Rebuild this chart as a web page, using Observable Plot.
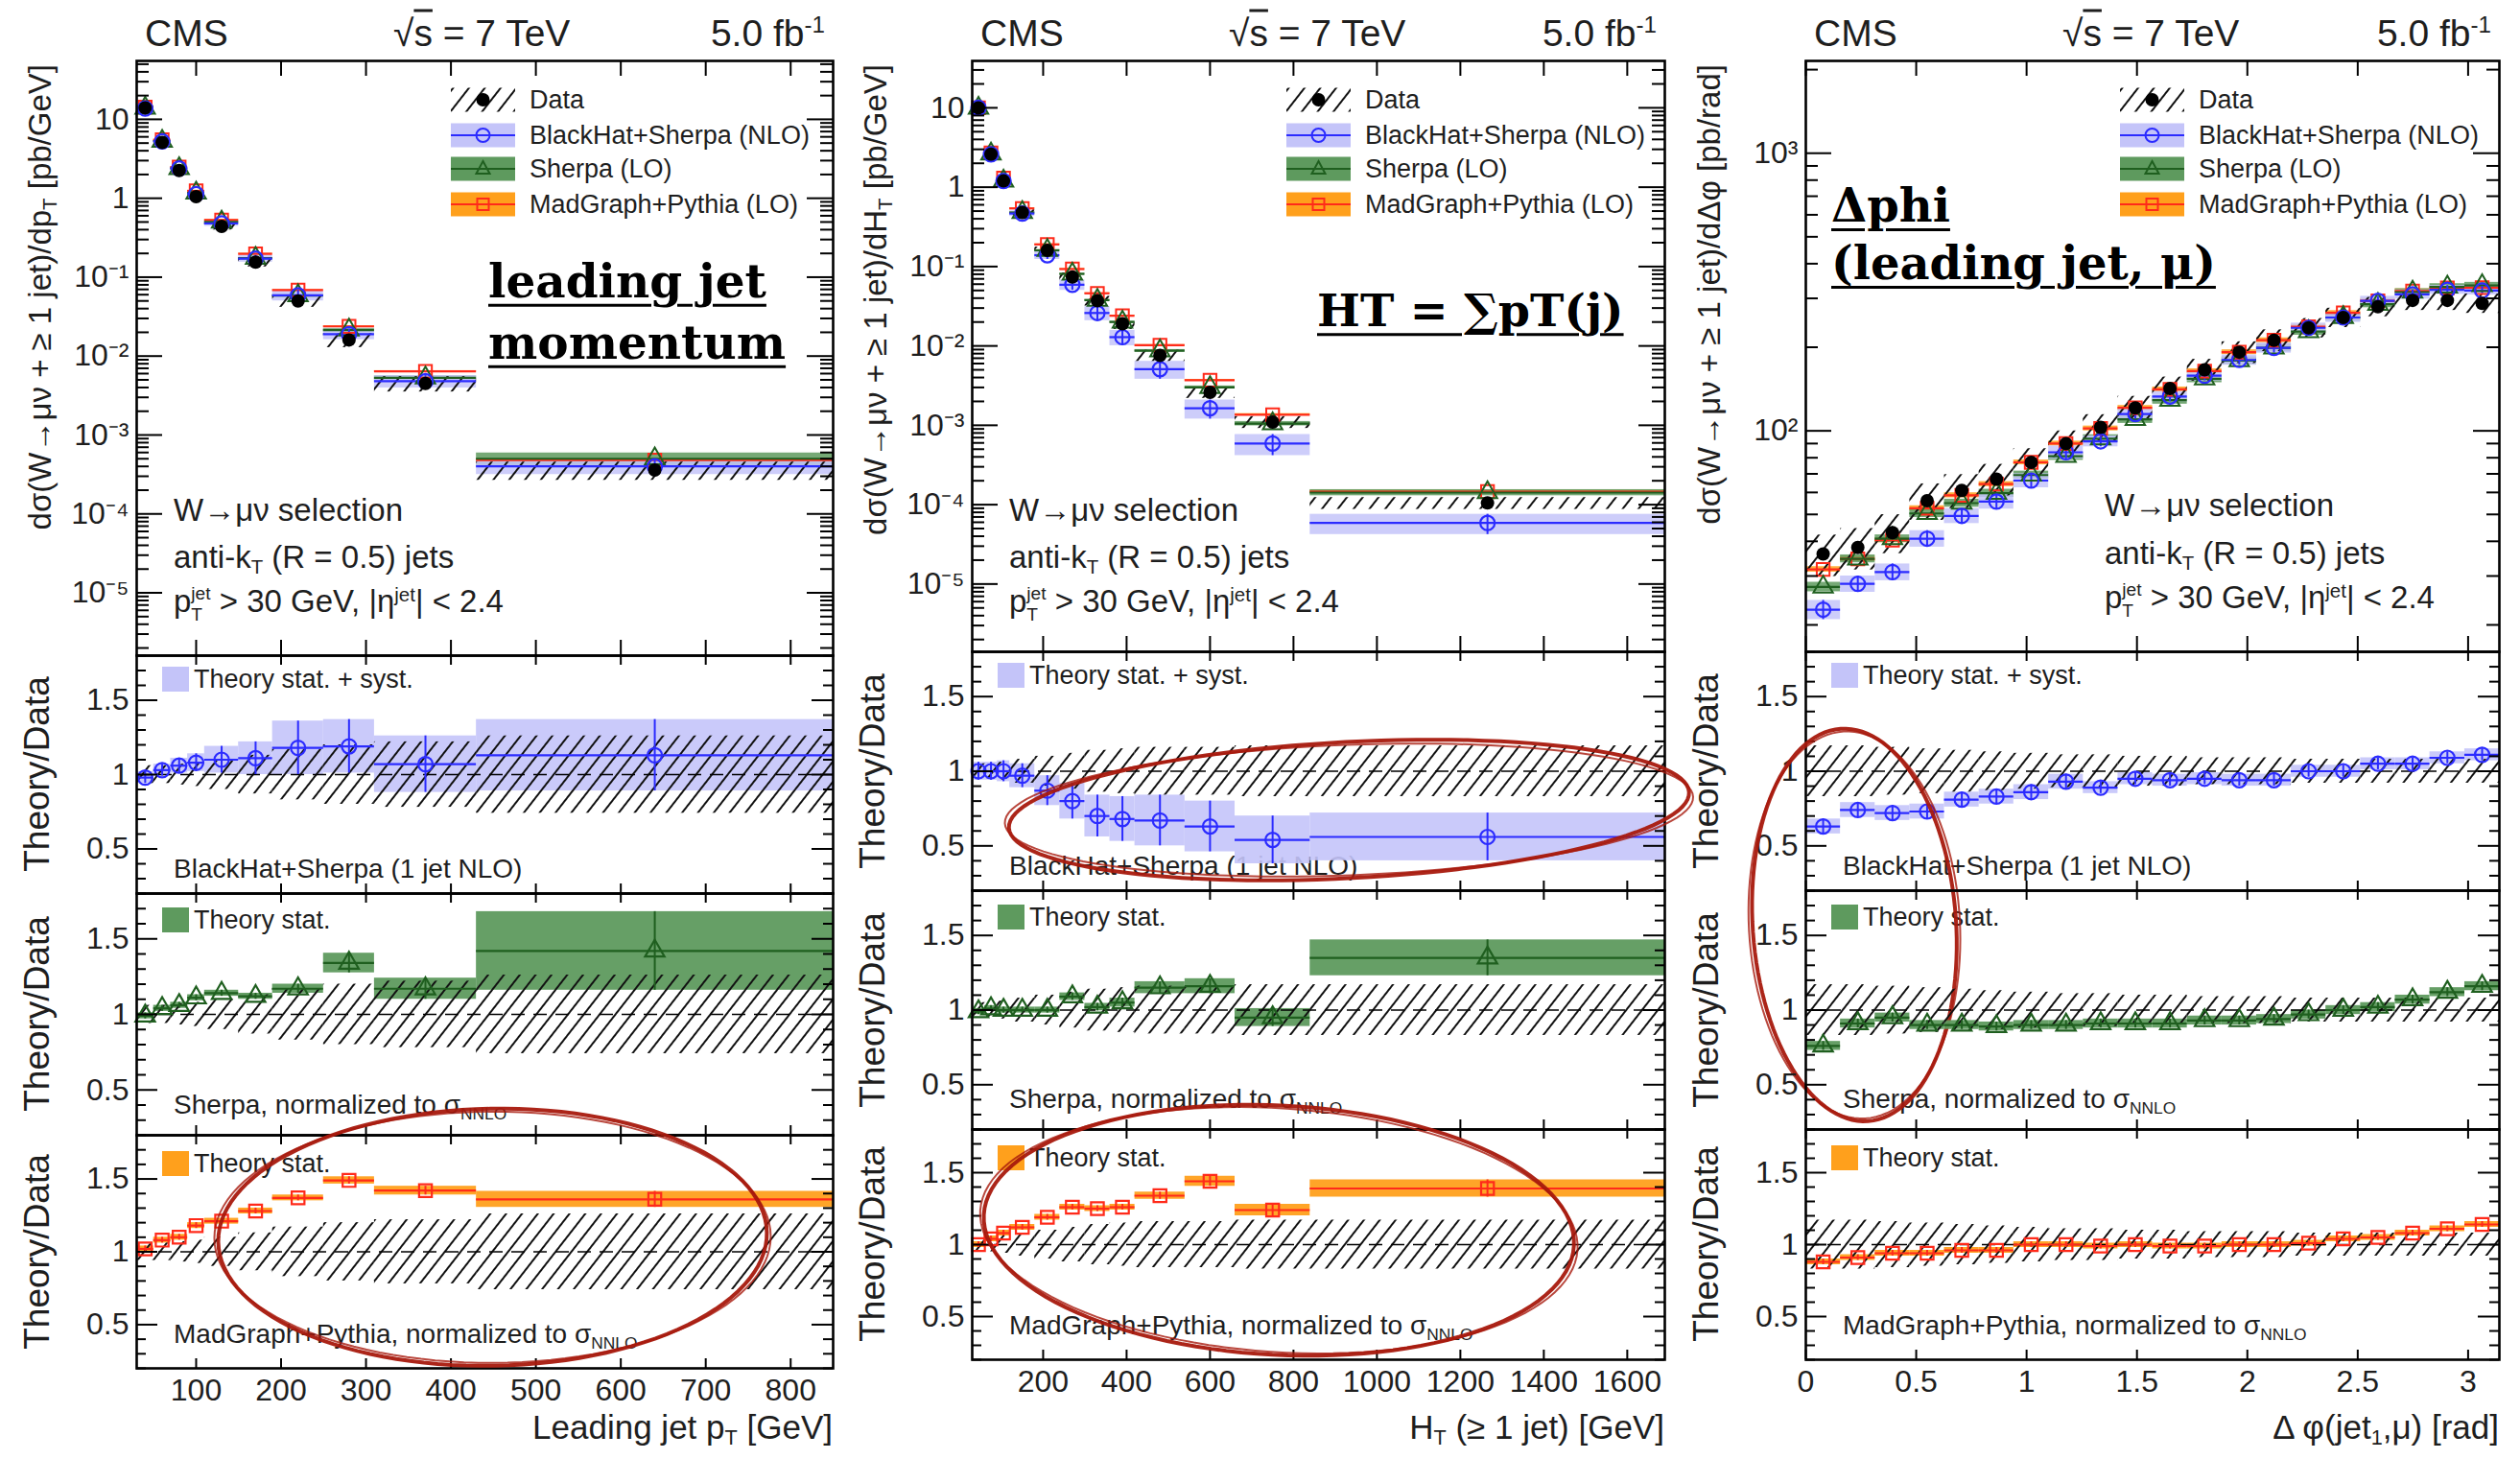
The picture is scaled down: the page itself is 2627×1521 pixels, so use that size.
<!DOCTYPE html>
<html>
<head>
<meta charset="utf-8">
<script src="https://cdn.jsdelivr.net/npm/d3@7"></script>
<script src="https://cdn.jsdelivr.net/npm/@observablehq/plot@0.6"></script>
<style>
  html, body { margin:0; padding:0; background:#fff; }
  #page { position:relative; width:2627px; height:1521px; overflow:hidden; background:#fff;
          font-family:"Liberation Sans", Arial, Helvetica, sans-serif; color:#1e1e1e; }
  .t { position:absolute; white-space:nowrap; line-height:1; }
  .t sub, .t sup { font-size:0.62em; line-height:0; }
  .t sub { vertical-align:-0.32em; }
  .t sup { vertical-align:0.55em; }
  .stk { display:inline-flex; flex-direction:column; font-size:0.58em; line-height:1.15; vertical-align:0.7em; }
  .big { font-family:"DejaVu Serif", serif; font-weight:bold; color:#000; text-decoration:underline;
         text-decoration-thickness:3px; text-underline-offset:7px; }
  .panel { position:absolute; }
  .panel svg { overflow:visible; display:block; }
  .sq { position:absolute; }
</style>
</head>
<body>
<svg width="0" height="0" style="position:absolute;left:0;top:0">
  <defs>
    <pattern id="hatch" patternUnits="userSpaceOnUse" width="13" height="13" patternTransform="rotate(38)">
      <line x1="2" y1="0" x2="2" y2="13" stroke="#111" stroke-width="2"/>
    </pattern>
  </defs>
</svg>
<div id="page"></div>
<script>
// ======================= DATA =======================
// ---- Column 1: leading jet pT ----
const ptEdges = [30, 50, 70, 90, 110, 150, 190, 250, 310, 430, 850];
const ptData = [14, 5.1, 2.25, 1.05, 0.44, 0.155, 0.05, 0.016, 0.0045, 0.00036];
const ptDataUnc = [0.06, 0.06, 0.07, 0.08, 0.10, 0.13, 0.17, 0.20, 0.22, 0.26];
const ptBlackHat = [13.7, 5.25, 2.39, 1.13, 0.48, 0.172, 0.059, 0.019, 0.0048, 0.0004];
const ptSherpa = [13.9, 5.3, 2.39, 1.17, 0.5, 0.174, 0.0585, 0.0214, 0.0053, 0.0005];
const ptMadGraph = [14.3, 5.5, 2.48, 1.24, 0.53, 0.198, 0.0685, 0.0238, 0.0064, 0.00048];
const ptRatioBlackHat = [0.98, 1.03, 1.06, 1.08, 1.10, 1.11, 1.18, 1.19, 1.07, 1.13];
const ptErrBlackHat = [0.04, 0.04, 0.05, 0.06, 0.09, 0.11, 0.18, 0.18, 0.19, 0.24];
const ptRatioSherpa = [0.99, 1.04, 1.06, 1.11, 1.14, 1.12, 1.17, 1.34, 1.17, 1.42];
const ptErrSherpa = [0.02, 0.02, 0.02, 0.02, 0.02, 0.02, 0.03, 0.065, 0.07, 0.26];
const ptRatioMadGraph = [1.02, 1.08, 1.10, 1.18, 1.21, 1.28, 1.37, 1.49, 1.42, 1.36];
const ptErrMadGraph = [0.02, 0.02, 0.02, 0.02, 0.02, 0.02, 0.02, 0.025, 0.03, 0.055];

// ---- Column 2: HT ----
const htEdges = [30, 60, 90, 120, 180, 240, 300, 360, 420, 540, 660, 840, 1690];
const htData = [10, 2.6, 1.2, 0.48, 0.16, 0.074, 0.037, 0.019, 0.0076, 0.0026, 0.0011, 0.000105];
const htDataUnc = [0.05, 0.05, 0.06, 0.08, 0.10, 0.12, 0.14, 0.15, 0.16, 0.16, 0.17, 0.17];
const htBlackHat = [10, 2.6, 1.2, 0.466, 0.139, 0.059, 0.026, 0.0129, 0.0051, 0.00164, 0.00059, 0.0000588];
const htSherpa = [9.9, 2.63, 1.2, 0.48, 0.16, 0.0807, 0.0377, 0.02, 0.0087, 0.003, 0.00105, 0.000142];
const htMadGraph = [10, 2.7, 1.3, 0.54, 0.19, 0.093, 0.046, 0.024, 0.0102, 0.0037, 0.00136, 0.000146];
const htRatioBlackHat = [1.0, 1.0, 1.0, 0.97, 0.87, 0.80, 0.70, 0.68, 0.67, 0.63, 0.54, 0.56];
const htErrBlackHat = [0.06, 0.06, 0.07, 0.08, 0.10, 0.12, 0.14, 0.15, 0.17, 0.17, 0.16, 0.16];
const htRatioSherpa = [0.99, 1.01, 1.0, 1.0, 1.0, 1.09, 1.02, 1.05, 1.15, 1.16, 0.95, 1.35];
const htErrSherpa = [0.02, 0.02, 0.02, 0.02, 0.02, 0.025, 0.025, 0.03, 0.04, 0.05, 0.06, 0.12];
const htRatioMadGraph = [1.0, 1.04, 1.08, 1.12, 1.19, 1.26, 1.25, 1.26, 1.34, 1.44, 1.24, 1.39];
const htErrMadGraph = [0.02, 0.02, 0.02, 0.02, 0.02, 0.02, 0.02, 0.02, 0.025, 0.035, 0.04, 0.06];

// ---- Column 3: delta phi(jet1, mu) ----
const dphiEdges = [0, 0.157, 0.314, 0.471, 0.628, 0.785, 0.942, 1.100, 1.257, 1.414, 1.571, 1.728, 1.885, 2.042, 2.199, 2.356, 2.513, 2.670, 2.827, 2.985, 3.142];
const dphiData = [36, 38, 43, 56, 61, 67, 77, 90, 103, 121, 142, 166, 192, 212, 235, 256, 280, 295, 295, 288];
const dphiDataUnc = [0.17, 0.17, 0.16, 0.15, 0.14, 0.13, 0.12, 0.11, 0.11, 0.10, 0.10, 0.09, 0.09, 0.09, 0.08, 0.08, 0.08, 0.08, 0.08, 0.08];
const dphiBlackHat = [22.7, 28.1, 31, 40.9, 49.4, 55.6, 66.2, 83.7, 91.7, 115, 133, 158, 180, 199, 235, 256, 294, 310, 322, 320];
const dphiSherpa = [27.4, 34.6, 40.9, 50.4, 54.9, 59.6, 69.3, 81, 93.7, 110, 129, 154, 179, 199, 228, 256, 286, 316, 330, 334];
const dphiMadGraph = [31.7, 34.6, 40.4, 52.6, 58.6, 64.3, 77, 90, 102, 121, 141, 164, 192, 212, 237, 266, 294, 319, 327, 328];
const dphiRatioBlackHat = [0.63, 0.74, 0.72, 0.73, 0.81, 0.83, 0.86, 0.93, 0.89, 0.95, 0.94, 0.95, 0.94, 0.94, 1.0, 1.0, 1.05, 1.05, 1.09, 1.11];
const dphiErrBlackHat = [0.05, 0.05, 0.05, 0.05, 0.05, 0.05, 0.05, 0.05, 0.04, 0.04, 0.04, 0.04, 0.04, 0.04, 0.04, 0.04, 0.04, 0.04, 0.04, 0.04];
const dphiRatioSherpa = [0.76, 0.91, 0.95, 0.90, 0.90, 0.89, 0.90, 0.90, 0.91, 0.91, 0.91, 0.93, 0.93, 0.94, 0.97, 1.0, 1.02, 1.07, 1.12, 1.16];
const dphiErrSherpa = [0.03, 0.03, 0.03, 0.03, 0.03, 0.03, 0.03, 0.03, 0.03, 0.03, 0.03, 0.03, 0.03, 0.03, 0.03, 0.03, 0.03, 0.03, 0.03, 0.03];
const dphiRatioMadGraph = [0.88, 0.91, 0.94, 0.94, 0.96, 0.96, 1.0, 1.0, 0.99, 1.0, 0.99, 0.99, 1.0, 1.0, 1.01, 1.04, 1.05, 1.08, 1.11, 1.14];
const dphiErrMadGraph = [0.02, 0.02, 0.02, 0.02, 0.02, 0.02, 0.02, 0.02, 0.02, 0.02, 0.02, 0.02, 0.02, 0.02, 0.02, 0.02, 0.02, 0.02, 0.02, 0.02];

// ---- Axes: domains, ticks, tick labels ----
const ptDomain = [30, 850];
const htDomain = [30, 1690];
const dphiDomain = [0, 3.1416];
const ptYDomain = [1.6e-6, 55];
const htYDomain = [1.4e-6, 39];
const dphiYDomain = [16, 2150];
const ratioDomain = [0.2, 1.8];
const ptTicks = [100, 200, 300, 400, 500, 600, 700, 800];
const ptTickLabels = ["100", "200", "300", "400", "500", "600", "700", "800"];
const htTicks = [200, 400, 600, 800, 1000, 1200, 1400, 1600];
const htTickLabels = ["200", "400", "600", "800", "1000", "1200", "1400", "1600"];
const dphiTicks = [0, 0.5, 1, 1.5, 2, 2.5, 3];
const dphiTickLabels = ["0", "0.5", "1", "1.5", "2", "2.5", "3"];
const logTicks = [1e-5, 1e-4, 1e-3, 1e-2, 1e-1, 1, 10];
const logTickLabels = ["10⁻⁵", "10⁻⁴", "10⁻³", "10⁻²", "10⁻¹", "1", "10"];
const dphiLogTicks = [100, 1000];
const dphiLogTickLabels = ["10²", "10³"];
const ratioTicks = [0.5, 1, 1.5];
const ratioTickLabels = ["0.5", "1", "1.5"];

// ---- Hand-drawn highlight ellipses (centre in data units of the panel; size in px) ----
const highlights = [
  {col: 0, panel: 3, x: 449, y: 1.10, rx: 286, ry: 134, rot: -1},
  {col: 1, panel: 1, x: 933, y: 0.74, rx: 355, ry: 71, rot: -3},
  {col: 1, panel: 3, x: 765, y: 1.10, rx: 308, ry: 130, rot: 3},
  {col: 2, panel: 1, x: 0.22, y: -0.03, rx: 106, ry: 205, rot: -4}
];

// ======================= LAYOUT / STYLE =======================
const layout = [
  {left: 142, right: 868, top: 63, bounds: [683, 931, 1183, 1426]},
  {left: 1013, right: 1735, top: 63, bounds: [679, 928, 1177, 1417]},
  {left: 1882, right: 2605, top: 63, bounds: [679, 928, 1177, 1417]}
];
const ML = 130, MR = 12, MB = 56;
const FONT = '"Liberation Sans", Arial, Helvetica, sans-serif';
const C = {
  bhBand: "#c4c4f9", bhLine: "#2b2bff",
  shBand: "#5e9a5e", shLine: "#1f5f1f",
  mgBand: "#ffa01c", mgLine: "#ff2a1a",
  ell: "#a8190d"
};

const specs = [
  {edges: ptEdges, data: ptData, unc: ptDataUnc, bh: ptBlackHat, sh: ptSherpa, mg: ptMadGraph,
   rbh: ptRatioBlackHat, ebh: ptErrBlackHat, rsh: ptRatioSherpa, esh: ptErrSherpa, rmg: ptRatioMadGraph, emg: ptErrMadGraph,
   xDomain: ptDomain, xTicks: ptTicks, xLabels: ptTickLabels, yDomain: ptYDomain, yTicks: logTicks, yLabels: logTickLabels},
  {edges: htEdges, data: htData, unc: htDataUnc, bh: htBlackHat, sh: htSherpa, mg: htMadGraph,
   rbh: htRatioBlackHat, ebh: htErrBlackHat, rsh: htRatioSherpa, esh: htErrSherpa, rmg: htRatioMadGraph, emg: htErrMadGraph,
   xDomain: htDomain, xTicks: htTicks, xLabels: htTickLabels, yDomain: htYDomain, yTicks: logTicks, yLabels: logTickLabels},
  {edges: dphiEdges, data: dphiData, unc: dphiDataUnc, bh: dphiBlackHat, sh: dphiSherpa, mg: dphiMadGraph,
   rbh: dphiRatioBlackHat, ebh: dphiErrBlackHat, rsh: dphiRatioSherpa, esh: dphiErrSherpa, rmg: dphiRatioMadGraph, emg: dphiErrMadGraph,
   xDomain: dphiDomain, xTicks: dphiTicks, xLabels: dphiTickLabels, yDomain: dphiYDomain, yTicks: dphiLogTicks, yLabels: dphiLogTickLabels}
];

const page = document.getElementById("page");

function rowsOf(s) {
  return s.edges.slice(0, -1).map((lo, i) => {
    const hi = s.edges[i + 1];
    return {lo, hi, mid: (lo + hi) / 2, data: s.data[i], unc: s.unc[i],
      bh: s.bh[i], sh: s.sh[i], mg: s.mg[i],
      rbh: s.rbh[i], ebh: s.ebh[i], rsh: s.rsh[i], esh: s.esh[i], rmg: s.rmg[i], emg: s.emg[i]};
  });
}

function frameTicks(fw, fh, xMajor, yMajor, yMinor, lens) {
  const st = {stroke: "#000", strokeWidth: 2};
  return [
    Plot.tickY(yMajor, {y: d => d, insetRight: fw - lens.yMaj, ...st}),
    Plot.tickY(yMajor, {y: d => d, insetLeft: fw - lens.yMaj, ...st}),
    Plot.tickY(yMinor, {y: d => d, insetRight: fw - lens.yMin, ...st}),
    Plot.tickY(yMinor, {y: d => d, insetLeft: fw - lens.yMin, ...st}),
    Plot.tickX(xMajor, {x: d => d, insetBottom: fh - lens.x, ...st}),
    Plot.tickX(xMajor, {x: d => d, insetTop: fh - lens.x, ...st})
  ];
}

function ellipseSymbol(rx, ry, rot) {
  const a = rot * Math.PI / 180, ca = Math.cos(a), sa = Math.sin(a);
  return {draw(context) {
    const n = 120;
    for (let i = 0; i <= n; ++i) {
      const t = 2 * Math.PI * i / n, x = rx * Math.cos(t), y = ry * Math.sin(t);
      const X = x * ca - y * sa, Y = x * sa + y * ca;
      if (i === 0) context.moveTo(X, Y); else context.lineTo(X, Y);
    }
    context.closePath();
  }};
}

function highlightMarks(ci, pi) {
  const out = [];
  for (const h of highlights.filter(h => h.col === ci && h.panel === pi)) {
    out.push(Plot.dot([h], {x: "x", y: "y", r: 10, symbol: ellipseSymbol(h.rx, h.ry, h.rot), fill: "none", stroke: C.ell, strokeWidth: 4, strokeOpacity: 0.95}));
    out.push(Plot.dot([h], {x: "x", y: "y", r: 10, symbol: ellipseSymbol(h.rx + 4, h.ry - 3, h.rot + 0.8), fill: "none", stroke: C.ell, strokeWidth: 2, strokeOpacity: 0.8}));
  }
  return out;
}

function place(svg, x, y, w) {
  const d = document.createElement("div");
  d.className = "panel";
  d.style.left = x + "px";
  d.style.top = y + "px";
  d.style.width = w + "px";
  d.appendChild(svg);
  page.appendChild(d);
}

const svgStyle = {background: "transparent", overflow: "visible", fontSize: "32px", fontFamily: FONT, color: "#1e1e1e"};

function mainPanel(ci) {
  const s = specs[ci], L = layout[ci];
  const fw = L.right - L.left, fh = L.bounds[0] - L.top;
  const rows = rowsOf(s);
  const yMinor = d3.scaleLog().domain(s.yDomain).ticks()
    .filter(v => v >= s.yDomain[0] && v <= s.yDomain[1] && !s.yTicks.some(t => Math.abs(t - v) / t < 1e-9));
  const w = fw + ML + MR;
  const svg = Plot.plot({
    width: w, height: fh,
    marginLeft: ML, marginRight: MR, marginTop: 0, marginBottom: 0,
    style: svgStyle,
    x: {domain: s.xDomain, axis: null},
    y: {type: "log", domain: s.yDomain, ticks: s.yTicks, tickFormat: d => s.yLabels[s.yTicks.indexOf(d)],
        tickSize: 0, tickPadding: 8, label: null},
    marks: [
      Plot.rect(rows, {x1: "lo", x2: "hi", y1: d => d.mg * (1 - d.emg / d.rmg), y2: d => d.mg * (1 + d.emg / d.rmg), fill: C.mgBand, fillOpacity: 0.85}),
      Plot.rect(rows, {x1: "lo", x2: "hi", y1: d => d.sh * (1 - d.esh / d.rsh), y2: d => d.sh * (1 + d.esh / d.rsh), fill: C.shBand, fillOpacity: 0.85}),
      Plot.rect(rows, {x1: "lo", x2: "hi", y1: d => d.bh * (1 - d.ebh / d.rbh), y2: d => d.bh * (1 + d.ebh / d.rbh), fill: C.bhBand, fillOpacity: 0.85}),
      Plot.rect(rows, {x1: "lo", x2: "hi", y1: d => d.data * (1 - d.unc), y2: d => d.data * (1 + d.unc), fill: "url(#hatch)"}),
      Plot.ruleY(rows, {x1: "lo", x2: "hi", y: "mg", stroke: C.mgLine, strokeWidth: 2.2}),
      Plot.ruleY(rows, {x1: "lo", x2: "hi", y: "sh", stroke: C.shLine, strokeWidth: 2.2}),
      Plot.ruleY(rows, {x1: "lo", x2: "hi", y: "bh", stroke: C.bhLine, strokeWidth: 2.2}),
      Plot.ruleX(rows, {x: "mid", y1: d => d.bh * (1 - d.ebh / d.rbh), y2: d => d.bh * (1 + d.ebh / d.rbh), stroke: C.bhLine, strokeWidth: 2}),
      Plot.dot(rows, {x: "mid", y: "mg", symbol: "square", r: 7.5, stroke: C.mgLine, strokeWidth: 2, fill: "none"}),
      Plot.dot(rows, {x: "mid", y: "sh", symbol: "triangle", r: 7.5, stroke: C.shLine, strokeWidth: 2, fill: "none"}),
      Plot.dot(rows, {x: "mid", y: "bh", symbol: "circle", r: 7.5, stroke: C.bhLine, strokeWidth: 2.2, fill: "none"}),
      Plot.dot(rows, {x: "mid", y: "data", symbol: "circle", r: 7, fill: "#000"}),
      ...frameTicks(fw, fh, s.xTicks, s.yTicks, yMinor, {yMaj: 27, yMin: 13, x: 16}),
      Plot.frame({stroke: "#000", strokeWidth: 2.6}),
      ...highlightMarks(ci, 0)
    ]
  });
  place(svg, L.left - ML, L.top, w);
}

const ratioKinds = {
  1: {r: "rbh", e: "ebh", band: C.bhBand, line: C.bhLine, symbol: "circle"},
  2: {r: "rsh", e: "esh", band: C.shBand, line: C.shLine, symbol: "triangle"},
  3: {r: "rmg", e: "emg", band: C.mgBand, line: C.mgLine, symbol: "square"}
};

function ratioPanel(ci, pi) {
  const s = specs[ci], L = layout[ci], k = ratioKinds[pi];
  const top = L.bounds[pi - 1], bottom = L.bounds[pi];
  const fw = L.right - L.left, fh = bottom - top;
  const isLast = pi === 3;
  const rows = rowsOf(s).map(d => ({...d, r: d[k.r], e: d[k.e]}));
  const yMinor = d3.range(2, 19).map(i => i / 10).filter(v => !ratioTicks.some(t => Math.abs(t - v) < 1e-9));
  const w = fw + ML + MR;
  const svg = Plot.plot({
    width: w, height: fh + (isLast ? MB : 0),
    marginLeft: ML, marginRight: MR, marginTop: 0, marginBottom: isLast ? MB : 0,
    style: svgStyle,
    x: isLast
      ? {domain: s.xDomain, ticks: s.xTicks, tickFormat: d => s.xLabels[s.xTicks.indexOf(d)], tickSize: 0, tickPadding: 11, label: null}
      : {domain: s.xDomain, axis: null},
    y: {domain: ratioDomain, ticks: ratioTicks, tickFormat: d => ratioTickLabels[ratioTicks.indexOf(d)],
        tickSize: 0, tickPadding: 8, label: null},
    marks: [
      Plot.rect(rows, {x1: "lo", x2: "hi", y1: d => d.r - d.e, y2: d => d.r + d.e, fill: k.band, fillOpacity: pi === 1 ? 0.9 : 0.95}),
      Plot.rect(rows, {x1: "lo", x2: "hi", y1: d => 1 - d.unc, y2: d => 1 + d.unc, fill: "url(#hatch)"}),
      Plot.ruleY([1], {stroke: "#000", strokeWidth: 1.6, strokeDasharray: "14,9"}),
      Plot.ruleY(rows, {x1: "lo", x2: "hi", y: "r", stroke: k.line, strokeWidth: 2.2}),
      Plot.ruleX(rows, {x: "mid", y1: d => d.r - d.e, y2: d => d.r + d.e, stroke: k.line, strokeWidth: 2}),
      Plot.dot(rows, {x: "mid", y: "r", symbol: k.symbol, r: 7.5, stroke: k.line, strokeWidth: 2.2, fill: "none"}),
      ...frameTicks(fw, fh, s.xTicks, ratioTicks, yMinor, {yMaj: 22, yMin: 10, x: 10}),
      Plot.frame({stroke: "#000", strokeWidth: 2.6}),
      ...highlightMarks(ci, pi)
    ]
  });
  place(svg, L.left - ML, top, w);
}

// ======================= TEXT =======================
function txt(html, x, y, o = {}) {
  const d = document.createElement("div");
  d.className = "t" + (o.cls ? " " + o.cls : "");
  d.innerHTML = html;
  d.style.left = x + "px";
  d.style.top = y + "px";
  d.style.fontSize = (o.size || 27) + "px";
  if (o.color) d.style.color = o.color;
  const ax = o.anchor === "end" ? "-100%" : o.anchor === "middle" ? "-50%" : "0";
  if (o.rotate) {
    d.style.transformOrigin = "0 0";
    d.style.transform = `rotate(-90deg) translate(${ax}, -50%)`;
  } else {
    d.style.transform = `translate(${ax}, -50%)`;
  }
  page.appendChild(d);
  return d;
}

function swatch(kind) {
  const w = 67, h = 25, cy = h / 2, cx = w / 2;
  let s = `<svg width="${w}" height="${h}" style="display:block;overflow:visible">`;
  if (kind === "data") {
    s += `<rect width="${w}" height="${h}" fill="url(#hatch)"/><circle cx="${cx}" cy="${cy}" r="7" fill="#000"/>`;
  } else if (kind === "bh") {
    s += `<rect width="${w}" height="${h}" fill="${C.bhBand}"/><line x1="0" x2="${w}" y1="${cy}" y2="${cy}" stroke="${C.bhLine}" stroke-width="2.2"/><circle cx="${cx}" cy="${cy}" r="7" fill="none" stroke="${C.bhLine}" stroke-width="2"/>`;
  } else if (kind === "sh") {
    s += `<rect width="${w}" height="${h}" fill="${C.shBand}"/><line x1="0" x2="${w}" y1="${cy}" y2="${cy}" stroke="${C.shLine}" stroke-width="2.2"/><path d="M${cx},${cy - 8}L${cx + 7},${cy + 5}L${cx - 7},${cy + 5}Z" fill="none" stroke="${C.shLine}" stroke-width="2"/>`;
  } else {
    s += `<rect width="${w}" height="${h}" fill="${C.mgBand}"/><line x1="0" x2="${w}" y1="${cy}" y2="${cy}" stroke="${C.mgLine}" stroke-width="2.2"/><rect x="${cx - 6}" y="${cy - 6}" width="12" height="12" fill="none" stroke="${C.mgLine}" stroke-width="2"/>`;
  }
  return s + "</svg>";
}

function square(x, y, color) {
  const d = document.createElement("div");
  d.className = "sq";
  d.style.left = x + "px"; d.style.top = (y - 13) + "px";
  d.style.width = "28px"; d.style.height = "26px";
  d.style.background = color;
  page.appendChild(d);
}

const legendItems = [
  {kind: "data", label: "Data"},
  {kind: "bh", label: "BlackHat+Sherpa (NLO)"},
  {kind: "sh", label: "Sherpa (LO)"},
  {kind: "mg", label: "MadGraph+Pythia (LO)"}
];
const legendRowOffsets = [41, 78, 113, 150];

const yTitles = [
  'dσ(W→μν + ≥ 1 jet)/dp<sub>T</sub> [pb/GeV]',
  'dσ(W→μν + ≥ 1 jet)/dH<sub>T</sub> [pb/GeV]',
  'dσ(W→μν + ≥ 1 jet)/dΔφ [pb/rad]'
];
const xTitles = [
  'Leading jet p<sub>T</sub> [GeV]',
  'H<sub>T</sub> (≥ 1 jet) [GeV]',
  'Δ φ(jet<sub>1</sub>,μ) [rad]'
];
const infoLines = [
  'W→μν selection',
  'anti-k<sub>T</sub> (R = 0.5) jets',
  'p<span class="stk"><span>jet</span><span>T</span></span> &gt; 30 GeV, |η<sup>jet</sup>| &lt; 2.4'
];

layout.forEach((L, ci) => {
  // header
  txt("CMS", L.left + 9, 34, {size: 39});
  txt('√<span style="text-decoration:overline">s</span> = 7 TeV', L.left + 268, 34, {size: 39});
  txt('5.0 fb<sup>-1</sup>', L.right - 8, 34, {size: 39, anchor: "end"});
  // legend
  legendItems.forEach((it, i) => {
    const y = L.top + legendRowOffsets[i];
    txt(swatch(it.kind), L.left + 328, y, {size: 27});
    txt(it.label, L.left + 410, y, {size: 27});
  });
  // info block
  const ix = ci === 2 ? L.left + 312 : L.left + 39;
  const iy = ci === 2 ? [463, 513, 563] : [468, 517, 567];
  infoLines.forEach((h, i) => txt(h, ix, L.top + iy[i], {size: 33}));
  // y titles
  txt(yTitles[ci], L.left - 101, 67, {size: 33, rotate: true, anchor: "end"});
  for (let p = 1; p <= 3; ++p) {
    const yc = (L.bounds[p - 1] + L.bounds[p]) / 2;
    txt("Theory/Data", L.left - 104, yc, {size: 37, rotate: true, anchor: "middle"});
  }
  // ratio panel labels
  square(L.left + 27, L.bounds[0] + 25, C.bhBand);
  txt("Theory stat. + syst.", L.left + 60, L.bounds[0] + 25, {size: 27});
  txt("BlackHat+Sherpa (1 jet NLO)", L.left + 39, L.bounds[1] - 25, {size: 28});
  square(L.left + 27, L.bounds[1] + 28, C.shBand);
  txt("Theory stat.", L.left + 60, L.bounds[1] + 28, {size: 27});
  txt('Sherpa, normalized to σ<sub>NNLO</sub>', L.left + 39, L.bounds[2] - 31, {size: 28});
  square(L.left + 27, L.bounds[2] + 30, C.mgBand);
  txt("Theory stat.", L.left + 60, L.bounds[2] + 30, {size: 27});
  txt('MadGraph+Pythia, normalized to σ<sub>NNLO</sub>', L.left + 39, L.bounds[3] - 35, {size: 28});
  // x title
  txt(xTitles[ci], L.right, 1487, {size: 35, anchor: "end"});
});

// big hand-added labels
txt("leading jet", 509, 293, {size: 48.5, cls: "big"});
txt("momentum", 509, 357, {size: 48.5, cls: "big"});
txt("HT = ∑pT(j)", 1373, 324, {size: 47.5, cls: "big"});
txt("Δphi", 1909, 214, {size: 48, cls: "big"});
txt("(leading jet, μ)", 1909, 274, {size: 48, cls: "big"});

// ======================= PANELS =======================
for (let ci = 0; ci < 3; ++ci) {
  mainPanel(ci);
  for (let pi = 1; pi <= 3; ++pi) ratioPanel(ci, pi);
}
</script>
</body>
</html>
